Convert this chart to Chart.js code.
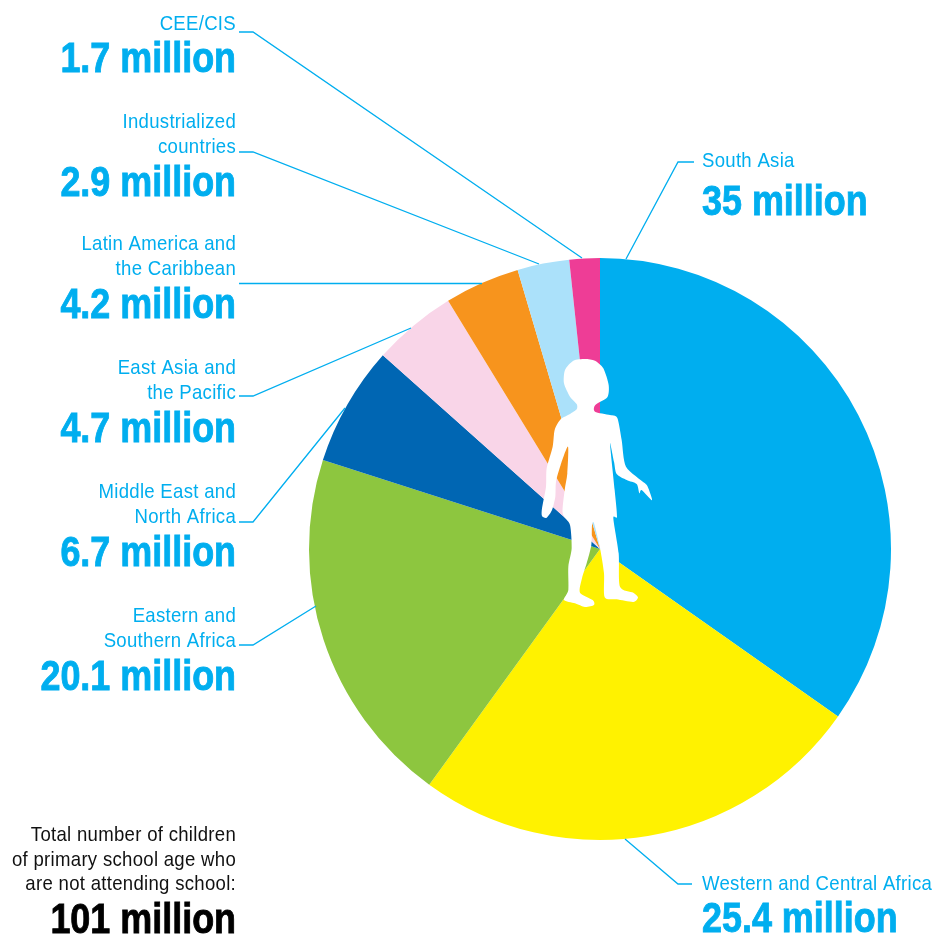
<!DOCTYPE html>
<html>
<head>
<meta charset="utf-8">
<title>Children out of school</title>
<script src="https://cdn.jsdelivr.net/npm/chart.js@4/dist/chart.umd.min.js"></script>
<style>
    html, body { margin: 0; padding: 0; background: #fff; }
    canvas { display: block; }
</style>
</head>
<body>
<canvas id="outOfSchool" width="936" height="935"></canvas>
<script>
var categories = [
    ['South Asia'],
    ['Western and Central Africa'],
    ['Eastern and', 'Southern Africa'],
    ['Middle East and', 'North Africa'],
    ['East Asia and', 'the Pacific'],
    ['Latin America and', 'the Caribbean'],
    ['Industrialized', 'countries'],
    ['CEE/CIS']
];
var millions = [35, 25.4, 20.1, 6.7, 4.7, 4.2, 2.9, 1.7];
var sliceColors = ['#00aeef', '#fff200', '#8dc63f', '#0066b3', '#f9d5e8', '#f7941d', '#abe1fa', '#ee3d96'];

var totalMillions = 101;
var totalLines = ['Total number of children', 'of primary school age who', 'are not attending school:'];

var INK = '#00aeef';
var THIN_FONT = '21px "Liberation Sans", sans-serif';
var BOLD_FONT = 'bold 42px "Liberation Sans", sans-serif';
// no condensed face is available, so the regular one gets squeezed
var THIN_SQUEEZE = 0.885;
var BOLD_SQUEEZE = 0.855;

// where each region's text sits: x edge, baseline of the first line, baseline of the big figure
var labelSpots = [
    {x: 702, y: 167, big: 215, align: 'left'},
    {x: 702, y: 890, big: 932, align: 'left'},
    {x: 236, y: 622, big: 690, align: 'right'},
    {x: 236, y: 498, big: 566, align: 'right'},
    {x: 236, y: 374, big: 442, align: 'right'},
    {x: 236, y: 250, big: 318, align: 'right'},
    {x: 236, y: 128, big: 196, align: 'right'},
    {x: 236, y: 30, big: 72, align: 'right'}
];

// leader lines from the text to the edge of the pie
var leaders = [
    [[694, 162], [678, 162], [626, 259]],
    [[692, 884], [678, 884], [625, 839]],
    [[239, 645], [253, 645], [316, 606]],
    [[239, 522], [253, 522], [345, 408]],
    [[239, 396], [253, 396], [411, 328]],
    [[239, 283.5], [482, 283.5]],
    [[239, 152], [253, 152], [539, 264]],
    [[239, 32], [253, 32], [582, 258]]
];

// child outline, in thirds of a pixel from childOrigin
var childOrigin = [520, 340];
var childOutline = [
    [195, 57], [160, 62], [135, 90], [132, 130], [150, 170], [170, 192], [170, 208], [150, 222],
    [122, 238], [104, 270], [98, 320], [80, 385], [78, 440], [66, 505], [66, 528], [80, 533],
    [96, 510], [106, 470], [108, 425], [122, 375], [144, 320], [142, 400], [134, 450], [128, 520],
    [150, 555], [155, 625], [145, 680], [145, 750], [132, 780], [165, 790], [195, 801], [222, 795],
    [218, 780], [180, 758], [186, 715], [200, 670], [214, 615], [216, 556], [222, 550], [240, 625],
    [252, 700], [254, 772], [290, 778], [340, 786], [354, 772], [340, 758], [300, 740], [296, 640],
    [280, 535], [291, 530], [284, 450], [270, 310], [282, 365], [290, 402], [320, 420], [350, 432],
    [358, 460], [365, 450], [396, 481], [385, 445], [375, 430], [318, 380], [305, 300], [292, 234],
    [270, 225], [225, 215], [226, 195], [262, 172], [266, 135], [250, 85], [225, 62]
];

function drawChild(ctx) {
    var pts = [];
    for (var i = 0; i < childOutline.length; i++) {
        pts.push([childOrigin[0] + childOutline[i][0] / 3, childOrigin[1] + childOutline[i][1] / 3]);
    }
    var n = pts.length;

    ctx.save();
    ctx.fillStyle = '#fff';
    ctx.beginPath();
    ctx.moveTo(pts[0][0], pts[0][1]);
    // catmull-rom through the outline points
    for (var j = 0; j < n; j++) {
        var p0 = pts[(j + n - 1) % n];
        var p1 = pts[j];
        var p2 = pts[(j + 1) % n];
        var p3 = pts[(j + 2) % n];
        ctx.bezierCurveTo(
            p1[0] + (p2[0] - p0[0]) / 8, p1[1] + (p2[1] - p0[1]) / 8,
            p2[0] - (p3[0] - p1[0]) / 8, p2[1] - (p3[1] - p1[1]) / 8,
            p2[0], p2[1]
        );
    }
    ctx.closePath();
    ctx.fill();
    ctx.restore();
}

function drawLeaders(ctx) {
    ctx.save();
    ctx.strokeStyle = INK;
    ctx.lineWidth = 1.3;
    for (var i = 0; i < leaders.length; i++) {
        ctx.beginPath();
        ctx.moveTo(leaders[i][0][0], leaders[i][0][1]);
        for (var j = 1; j < leaders[i].length; j++) {
            ctx.lineTo(leaders[i][j][0], leaders[i][j][1]);
        }
        ctx.stroke();
    }
    ctx.restore();
}

function drawText(ctx, text, x, y, bold, color, align) {
    ctx.save();
    ctx.translate(x, y);
    ctx.scale(bold ? BOLD_SQUEEZE : THIN_SQUEEZE, 1);
    ctx.font = bold ? BOLD_FONT : THIN_FONT;
    ctx.letterSpacing = bold ? '0px' : '0.32px';
    ctx.fillStyle = color;
    ctx.textAlign = align;
    ctx.textBaseline = 'alphabetic';
    ctx.fillText(text, 0, 0);
    if (bold) {
        // squeezing thins the stems, put some weight back
        ctx.strokeStyle = color;
        ctx.lineWidth = 0.9;
        ctx.strokeText(text, 0, 0);
    }
    ctx.restore();
}

function drawLabels(ctx) {
    for (var i = 0; i < categories.length; i++) {
        var spot = labelSpots[i];
        for (var j = 0; j < categories[i].length; j++) {
            drawText(ctx, categories[i][j], spot.x, spot.y + j * 25, false, INK, spot.align);
        }
        drawText(ctx, millions[i] + ' million', spot.x, spot.big, true, INK, spot.align);
    }
    // the total block in the bottom left corner
    for (var k = 0; k < totalLines.length; k++) {
        drawText(ctx, totalLines[k], 236, 841 + k * 24.5, false, '#111', 'right');
    }
    drawText(ctx, totalMillions + ' million', 236, 933, true, '#000', 'right');
}

var decorations = {
    id: 'decorations',
    afterDatasetsDraw: function (chart) {
        var ctx = chart.ctx;
        drawLeaders(ctx);
        drawChild(ctx);
        drawLabels(ctx);
    }
};

new Chart(document.getElementById('outOfSchool').getContext('2d'), {
    type: 'pie',
    data: {
        labels: categories.map(function (c) { return c.join(' '); }),
        datasets: [{
            data: millions,
            backgroundColor: sliceColors,
            borderWidth: 0
        }]
    },
    options: {
        responsive: false,
        animation: false,
        layout: {padding: {left: 309, right: 45, top: 258, bottom: 95}},
        plugins: {
            legend: {display: false},
            tooltip: {enabled: false}
        }
    },
    plugins: [decorations]
});
</script>
</body>
</html>
